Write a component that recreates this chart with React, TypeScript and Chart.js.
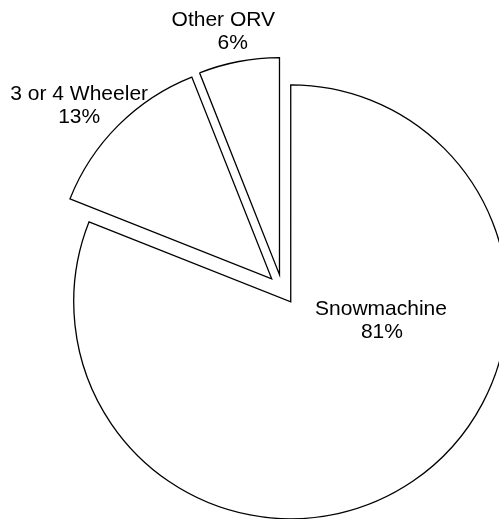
import { useEffect, useRef } from 'react';
import { Chart, registerables } from 'chart.js';

Chart.register(...registerables);

// ---- data ----
const categories: string[] = ['Snowmachine', '3 or 4 Wheeler', 'Other ORV'];
const values: number[] = [81, 13, 6];

// ---- plugins ----
// pushes every slice outward along its mid-angle by the same distance
const explodePlugin = {
  id: 'explodeSlices',
  afterDatasetUpdate(chart: any, args: any, opts: any) {
    const d = opts.distance || 0;
    args.meta.data.forEach((arc: any) => {
      const mid = (arc.startAngle + arc.endAngle) / 2;
      arc.x += d * Math.cos(mid);
      arc.y += d * Math.sin(mid);
    });
  },
};

// draws "category\nNN%" labels
const sliceLabelPlugin = {
  id: 'sliceLabels',
  afterDatasetsDraw(chart: any, _args: any, opts: any) {
    const { ctx, chartArea } = chart;
    const cx = (chartArea.left + chartArea.right) / 2;
    const cy = (chartArea.top + chartArea.bottom) / 2;
    const ds = chart.data.datasets[0].data as number[];
    const total = ds.reduce((a, b) => a + b, 0);
    ctx.save();
    ctx.fillStyle = opts.color;
    ctx.font = opts.font;
    ctx.textAlign = 'center';
    ctx.textBaseline = 'alphabetic';
    chart.data.labels.forEach((lab: string, i: number) => {
      const p = opts.positions[i];
      const pct = Math.round((ds[i] / total) * 100) + '%';
      ctx.fillText(lab, cx + p.dx, cy + p.dy);
      ctx.fillText(pct, cx + p.dx + (p.dx2 || 0), cy + p.dy + opts.lineHeight);
    });
    ctx.restore();
  },
};

export default function App() {
  const ref = useRef<HTMLCanvasElement | null>(null);

  useEffect(() => {
    if (!ref.current) return;
    const chart = new Chart(ref.current, {
      type: 'pie',
      data: {
        labels: categories,
        datasets: [
          {
            data: values,
            backgroundColor: '#ffffff',
            borderColor: '#000000',
            borderWidth: 1.3,
            borderJoinStyle: 'miter',
            clip: false,
          } as any,
        ],
      },
      options: {
        responsive: false,
        animation: false,
        devicePixelRatio: 1,
        radius: 217,
        layout: { padding: { left: 65.6, top: 59.8, right: 0, bottom: 0 } },
        plugins: {
          legend: { display: false },
          tooltip: { enabled: false },
          explodeSlices: { distance: 15 },
          sliceLabels: {
            color: '#000000',
            font: '21px "Liberation Sans", Arial, sans-serif',
            lineHeight: 23.2,
            positions: [
              { dx: 98.7, dy: 25.6, dx2: 0.9 },
              { dx: -203.1, dy: -189.4, dx2: 0 },
              { dx: -59, dy: -263.4, dx2: 9.5 },
            ],
          },
        } as any,
      },
      plugins: [explodePlugin, sliceLabelPlugin],
    });
    return () => chart.destroy();
  }, []);

  return (
    <div style={{ position: 'fixed', left: 0, top: 0, width: 499, height: 519, background: '#fff' }}>
      <canvas ref={ref} width={499} height={519} style={{ display: 'block', width: 499, height: 519 }} />
    </div>
  );
}
